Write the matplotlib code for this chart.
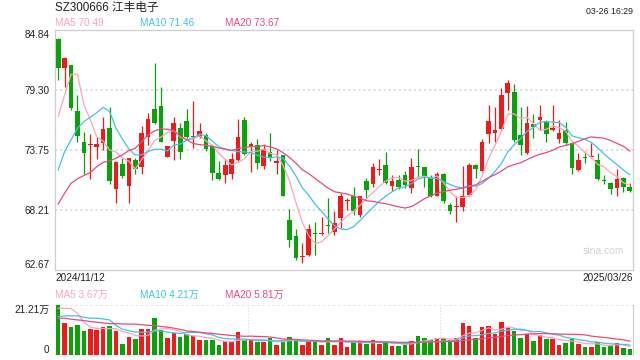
import matplotlib

matplotlib.use("Agg")
import matplotlib.pyplot as plt
import numpy as np
import pandas as pd

plt.rcParams["font.family"] = ["Liberation Sans", "Noto Sans CJK SC", "DejaVu Sans"]

# daily OHLC, 2024/11/12 .. 2025/03/26 (90 sessions)
opens = [83.98, 81.36, 81.61, 77.36, 74.47, 74.20, 74.07, 74.38, 75.76, 70.19,
         72.44, 70.44, 72.84, 72.16, 74.99, 77.55, 77.83, 73.15, 74.62, 75.82,
         76.47, 74.93, 74.99, 75.15, 74.13, 71.67, 71.46, 71.55, 72.84, 76.53,
         74.07, 74.23, 72.29, 73.61, 72.53, 73.30, 67.30, 65.82, 63.90, 64.01,
         66.05, 65.95, 66.78, 66.16, 67.50, 69.00, 69.52, 67.76, 70.90, 70.62,
         71.90, 72.38, 70.44, 71.00, 71.46, 70.29, 72.26, 72.16, 71.30, 69.46,
         71.55, 68.70, 68.45, 68.53, 69.61, 72.38, 71.86, 75.27, 75.36, 75.70,
         79.06, 79.15, 75.15, 73.46, 76.13, 76.53, 76.32, 75.61, 74.75, 75.61,
         74.38, 71.92, 73.10, 73.10, 72.84, 71.00, 70.75, 70.29, 71.21, 70.32]
closes = [81.36, 82.22, 77.61, 75.06, 73.52, 74.30, 74.32, 75.70, 70.93, 72.63,
          71.39, 73.00, 71.98, 75.30, 76.62, 76.29, 74.53, 74.13, 76.22, 73.60,
          74.99, 74.99, 75.55, 73.83, 71.67, 71.06, 72.38, 72.93, 74.99, 73.40,
          74.32, 72.60, 73.83, 73.09, 72.75, 69.55, 65.40, 63.82, 63.95, 66.47,
          65.98, 66.13, 66.72, 66.99, 69.46, 69.10, 68.16, 69.55, 70.07, 72.22,
          71.92, 70.69, 70.90, 70.32, 70.53, 72.22, 72.20, 71.39, 69.46, 71.55,
          69.06, 68.16, 68.50, 69.52, 72.38, 71.98, 74.47, 76.44, 75.61, 78.84,
          79.92, 74.69, 74.23, 76.22, 75.90, 76.78, 75.21, 75.82, 75.36, 74.38,
          72.07, 72.84, 73.00, 73.15, 71.09, 70.93, 70.16, 71.09, 70.38, 69.98]
highs = [84.10, 82.30, 81.61, 78.81, 75.46, 75.20, 74.93, 76.78, 77.76, 72.70,
         73.06, 73.06, 73.00, 76.00, 77.20, 81.80, 79.60, 74.13, 76.84, 76.22,
         77.52, 78.29, 76.29, 75.30, 74.20, 72.70, 72.84, 73.52, 76.60, 76.78,
         74.53, 74.75, 74.32, 75.36, 73.76, 73.30, 68.30, 66.44, 65.15, 66.90,
         67.15, 67.55, 69.30, 68.16, 69.76, 69.30, 70.38, 69.55, 71.15, 72.53,
         72.90, 73.60, 71.40, 71.46, 71.86, 73.06, 73.86, 72.20, 71.40, 71.76,
         71.60, 68.90, 69.46, 72.29, 72.53, 72.44, 74.75, 77.92, 77.76, 79.45,
         80.22, 79.82, 77.76, 77.83, 77.08, 77.92, 76.53, 77.92, 76.53, 76.38,
         74.47, 73.46, 73.67, 74.38, 73.46, 71.40, 70.84, 71.98, 71.30, 70.75]
lows = [80.23, 79.60, 77.45, 74.53, 71.55, 71.10, 72.90, 73.76, 70.63, 68.90,
        71.15, 68.90, 71.55, 71.55, 74.20, 76.20, 74.47, 73.10, 72.80, 72.93,
        74.84, 73.98, 74.84, 73.70, 71.00, 71.00, 70.69, 71.09, 72.78, 73.30,
        71.76, 71.98, 72.00, 72.78, 71.55, 69.46, 64.84, 63.60, 63.36, 64.00,
        64.07, 65.92, 66.07, 65.92, 66.53, 68.20, 67.76, 67.55, 69.20, 70.38,
        71.46, 70.62, 70.00, 70.13, 70.23, 69.82, 71.30, 70.38, 69.40, 69.46,
        68.90, 67.82, 67.15, 68.16, 69.55, 71.15, 71.83, 74.38, 74.53, 75.61,
        77.45, 74.53, 73.30, 73.40, 74.84, 75.61, 74.53, 75.55, 74.38, 74.23,
        71.52, 71.86, 72.53, 73.06, 71.00, 70.62, 69.67, 69.55, 69.86, 69.92]

# volume, in 万 shares
volumes = [21.21, 13.63, 11.94, 12.79, 9.98, 11.24, 10.40, 11.94, 12.36, 9.98,
           4.78, 7.73, 6.60, 11.24, 11.24, 15.74, 10.40, 7.03, 9.13, 7.45,
           8.99, 8.01, 6.18, 6.18, 6.46, 4.36, 5.76, 5.34, 9.55, 6.46,
           6.18, 5.34, 5.34, 7.03, 4.36, 6.04, 7.73, 6.18, 4.36, 5.76,
           6.18, 4.36, 7.31, 4.36, 7.03, 3.51, 5.34, 5.76, 4.78, 6.46,
           4.78, 5.34, 3.93, 3.93, 4.36, 6.04, 8.15, 7.31, 6.18, 7.03,
           7.03, 6.18, 7.03, 13.63, 12.36, 7.31, 11.94, 12.36, 8.99, 14.05,
           11.66, 10.26, 7.03, 8.99, 6.04, 8.57, 6.60, 6.60, 4.36, 5.20,
           6.60, 4.78, 3.51, 3.51, 5.34, 3.51, 4.07, 5.20, 3.09, 2.67]

# moving-average values before a full window is available
ma5_head = [76.84, 78.84, 80.75, 80.75]
ma10_head = [71.92, 73.61, 74.69, 75.76, 76.38, 76.78, 77.21, 77.70, 77.30]
ma20_head = [68.78, 69.76, 70.69, 71.09, 71.40, 71.67, 72.22, 72.62, 72.75, 72.99,
             73.30, 73.70, 73.92, 74.53, 75.15, 75.52, 75.70, 75.67, 75.55]
vma5_head = [19.8, 19.8, 19.7, 17.7]
vma10_head = [16.2, 16.6, 16.6, 16.6, 16.0, 15.6, 15.6, 15.3, 14.9]
vma20_head = [15.6, 15.6, 15.2, 14.9, 14.6, 14.2, 13.9, 13.6, 13.3, 13.3,
              13.2, 13.1, 13.1, 12.8, 12.6, 12.4, 12.1, 11.8, 11.4]

price_ticks = [62.67, 68.21, 73.75, 79.30, 84.84]
price_legend = ["MA5 70.49", "MA10 71.46", "MA20 73.67"]
vol_legend = ["MA5 3.67万", "MA10 4.21万", "MA20 5.81万"]
vol_max = 21.21
title = "SZ300666 江丰电子"
stamp = "03-26 16:29"
first_date, last_date = "2024/11/12", "2025/03/26"

RED, GREEN = "#f01a1a", "#09a309"
MA_COLORS = ["#ffa3bb", "#3ec5e6", "#eb4a7d"]
GRID = "#dcdcdc"
TEXT = "#222222"


def moving_average(values, n, head):
    s = pd.Series(values, dtype=float).rolling(n).mean()
    s.iloc[:len(head)] = head
    return s.to_numpy()


x = np.arange(len(closes))
o, c, h, l = map(np.asarray, (opens, closes, highs, lows))
up = c >= o
colors = [RED if u else GREEN for u in up]

fig = plt.figure(figsize=(6.4, 3.6), dpi=100)
W, H = 640, 360
left, right = 55, 633
ax = fig.add_axes([left / W, 1 - 270 / H, (right - left) / W, 240 / H])
axv = fig.add_axes([left / W, 1 - 355 / H, (right - left) / W, 50 / H])

# --- price panel
ax.vlines(x, l, h, colors=colors, linewidth=0.9, zorder=2)
body = np.maximum(np.abs(c - o), 0.09)
ax.bar(x, body, bottom=np.minimum(o, c), width=0.72, color=colors, zorder=3)
for n, head, col in zip((5, 10, 20), (ma5_head, ma10_head, ma20_head), MA_COLORS):
    ax.plot(x, moving_average(closes, n, head), color=col, linewidth=0.9, zorder=4)

ax.set_xlim(-0.5, len(x) - 0.5)
ax.set_ylim(price_ticks[0], price_ticks[-1])
ax.set_xticks([])
ax.set_yticks(price_ticks)
ax.set_yticklabels([f"{v:.2f}" for v in price_ticks], fontsize=7.2, color=TEXT)
ax.tick_params(axis="y", length=0, pad=4)
labels = ax.get_yticklabels()
labels[0].set_va("bottom")
labels[-1].set_va("top")
for v in price_ticks[1:-1]:
    ax.axhline(v, color=GRID, linewidth=1.3, linestyle=(0, (1.2, 1.6)), zorder=0)
for s in ax.spines.values():
    s.set_color("#cfcfcf")
    s.set_linewidth(0.9)
ax.text(0.985, 0.08, "sina.com", transform=ax.transAxes, ha="right", va="center",
        fontsize=7.5, color="#d4d4d4")

# --- volume panel
axv.bar(x, volumes, width=0.7, color=colors, zorder=2)
for n, head, col in zip((5, 10, 20), (vma5_head, vma10_head, vma20_head), MA_COLORS):
    axv.plot(x, moving_average(volumes, n, head), color=col, linewidth=0.9, zorder=3)
axv.set_xlim(-0.5, len(x) - 0.5)
axv.set_ylim(0, vol_max)
axv.set_xticks([])
axv.set_yticks([0, vol_max])
axv.set_yticklabels(["0", f"{vol_max:.2f}万"], fontsize=7.2, color=TEXT)
axv.tick_params(axis="y", length=0, pad=4)
vlabels = axv.get_yticklabels()
vlabels[0].set_va("bottom")
vlabels[1].set_va("top")
for s in ("top", "bottom", "left"):
    axv.spines[s].set_visible(False)
axv.spines["right"].set_color("#cfcfcf")
for v in (0, vol_max):
    axv.axhline(v, color=GRID, linewidth=1.3, linestyle=(0, (1.2, 1.6)), zorder=0)
for frac in (1 / 3, 2 / 3):
    axv.axvline(-0.5 + frac * len(x), color=GRID, linewidth=0.8,
                linestyle=(0, (1.2, 1.6)), zorder=0)

# --- header / labels
fig.text(left / W, 1 - 8 / H, title, fontsize=8.4, color=TEXT, va="center")
fig.text(right / W, 1 - 11 / H, stamp, fontsize=6.3, color=TEXT, va="center", ha="right")
for xs, txt, col in zip((55, 140, 225), price_legend, MA_COLORS):
    fig.text(xs / W, 1 - 23.5 / H, txt, fontsize=7.2, color=col, va="center")
for xs, txt, col in zip((55, 140, 225), vol_legend, MA_COLORS):
    fig.text(xs / W, 1 - 295 / H, txt, fontsize=7.2, color=col, va="center")
fig.text(left / W, 1 - 278 / H, first_date, fontsize=7.2, color=TEXT, va="center")
fig.text(right / W, 1 - 278 / H, last_date, fontsize=7.2, color=TEXT, va="center", ha="right")

fig.savefig("out.png", dpi=100)
